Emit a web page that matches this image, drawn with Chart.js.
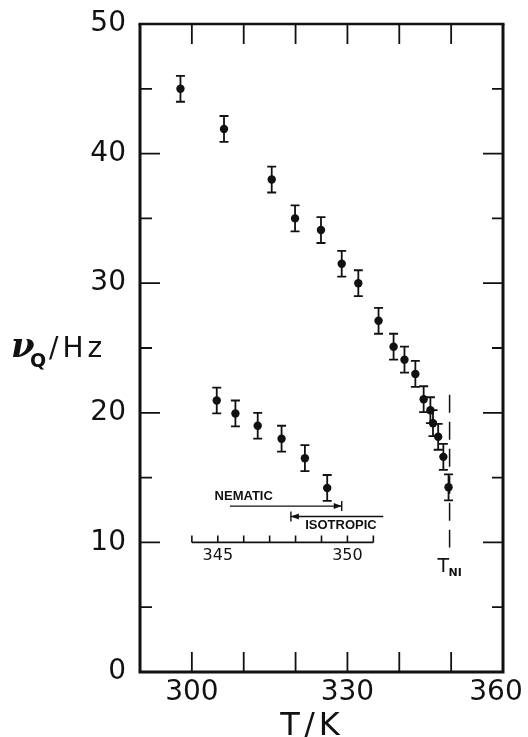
<!DOCTYPE html>
<html>
<head>
<meta charset="utf-8">
<script src="https://cdn.jsdelivr.net/npm/chart.js@4"></script>
<style>
  html, body { margin: 0; padding: 0; background: #fff; }
</style>
</head>
<body>
<canvas id="nuChart" width="528" height="737"></canvas>
<script>
'use strict';

// main curve: T / K against nu_Q / Hz
const tempK = [297.8, 306.2, 315.4, 319.9, 324.9, 328.9, 332.1, 336.0, 338.9, 341.0, 343.1, 344.7, 346.0, 346.5, 347.5, 348.5, 349.5];
const nuQ = [45.0, 41.9, 38.0, 35.0, 34.1, 31.5, 30.0, 27.1, 25.1, 24.1, 23.0, 21.05, 20.2, 19.2, 18.15, 16.6, 14.25];
const nuErr = [1, 1, 1, 1, 1, 1, 1, 1, 1, 1, 1, 1, 1, 1, 1, 1, 1];

// inset: same splitting on an expanded temperature scale near the transition
const insetT = [344.96, 345.68, 346.54, 347.46, 348.36, 349.22];
const insetNu = [20.95, 19.95, 19.0, 18.0, 16.5, 14.2];
const insetErr = [1, 1, 1, 1, 1, 1];
const insetTicks = [344, 345, 346, 347, 348, 349, 350, 351];
const insetTickLabels = [345, 350];
const nematicRange = [345.47, 349.78];
const isotropicRange = [347.82, 351.38];

const xTickLabels = [300, 330, 360];
const tNI = 349.7;
const tNIRange = [9.6, 21.4];

const black = '#111';

function drawErrorBars(ctx, xs, ys, data, err) {
    for (let i = 0; i < data.length; i++) {
        const px = xs.getPixelForValue(data[i].x);
        const top = ys.getPixelForValue(data[i].y + err[i]);
        const bot = ys.getPixelForValue(data[i].y - err[i]);
        ctx.beginPath();
        ctx.moveTo(px, top); ctx.lineTo(px, bot);
        ctx.moveTo(px - 4.5, top); ctx.lineTo(px + 4.5, top);
        ctx.moveTo(px - 4.5, bot); ctx.lineTo(px + 4.5, bot);
        ctx.stroke();
    }
}

const errorBarPlugin = {
    id: 'errorBars',
    beforeDatasetsDraw(chart) {
        const { ctx, scales } = chart;
        ctx.save();
        ctx.strokeStyle = black;
        ctx.lineWidth = 1.8;
        drawErrorBars(ctx, scales.x, scales.y, chart.data.datasets[0].data, nuErr);
        drawErrorBars(ctx, scales.x2, scales.y, chart.data.datasets[1].data, insetErr);
        ctx.restore();
    }
};

const framePlugin = {
    id: 'frame',
    afterDraw(chart) {
        const { ctx, chartArea: a, scales: { x, y, x2 } } = chart;
        ctx.save();
        ctx.strokeStyle = black;
        ctx.fillStyle = black;

        // frame
        ctx.lineWidth = 3;
        ctx.beginPath();
        ctx.moveTo(a.left, a.top); ctx.lineTo(a.left, a.bottom);
        ctx.lineTo(a.right, a.bottom); ctx.lineTo(a.right, a.top);
        ctx.stroke();
        ctx.lineWidth = 2.5;
        ctx.beginPath();
        ctx.moveTo(a.left - 1.5, a.top); ctx.lineTo(a.right + 1.5, a.top);
        ctx.stroke();

        // inward ticks
        ctx.lineWidth = 1.8;
        ctx.beginPath();
        for (let v = 5; v < 50; v += 5) {
            const py = y.getPixelForValue(v);
            const major = v % 10 === 0;
            ctx.moveTo(a.left, py); ctx.lineTo(a.left + (major ? 20 : 12), py);
            ctx.moveTo(a.right, py); ctx.lineTo(a.right - (major ? 20 : 11), py);
        }
        for (let t = 300; t < 360; t += 10) {
            const px = x.getPixelForValue(t);
            ctx.moveTo(px, a.bottom); ctx.lineTo(px, a.bottom - 20);
            ctx.moveTo(px, a.top); ctx.lineTo(px, a.top + 20);
        }
        ctx.stroke();

        // T_NI dashed marker
        ctx.lineWidth = 1.5;
        ctx.setLineDash([18, 9]);
        ctx.beginPath();
        const pxNI = x.getPixelForValue(tNI);
        ctx.moveTo(pxNI, y.getPixelForValue(tNIRange[1]));
        ctx.lineTo(pxNI, y.getPixelForValue(tNIRange[0]));
        ctx.stroke();
        ctx.setLineDash([]);
        ctx.font = '19px "DejaVu Sans"';
        ctx.textBaseline = 'alphabetic';
        ctx.textAlign = 'left';
        const nlY = y.getPixelForValue(7.7);
        ctx.fillText('T', pxNI - 12, nlY);
        ctx.font = 'bold 11px "DejaVu Sans"';
        ctx.fillText('NI', pxNI - 1, nlY + 4);

        // inset axis
        const iy = y.getPixelForValue(10);
        ctx.lineWidth = 1.6;
        ctx.beginPath();
        ctx.moveTo(x2.getPixelForValue(insetTicks[0]), iy);
        ctx.lineTo(x2.getPixelForValue(insetTicks[insetTicks.length - 1]), iy);
        insetTicks.forEach(t => {
            const px = x2.getPixelForValue(t);
            ctx.moveTo(px, iy); ctx.lineTo(px, iy - 7);
        });
        ctx.stroke();
        ctx.font = '16px "DejaVu Sans"';
        ctx.textAlign = 'center';
        ctx.textBaseline = 'middle';
        insetTickLabels.forEach(t => ctx.fillText(String(t), x2.getPixelForValue(t), y.getPixelForValue(9.0)));

        // nematic / isotropic arrows
        ctx.lineWidth = 1.4;
        const ny = y.getPixelForValue(12.8);
        const n0 = x2.getPixelForValue(nematicRange[0]);
        const n1 = x2.getPixelForValue(nematicRange[1]);
        ctx.beginPath();
        ctx.moveTo(n0, ny); ctx.lineTo(n1, ny);
        ctx.moveTo(n1, ny - 5); ctx.lineTo(n1, ny + 5);
        ctx.stroke();
        ctx.beginPath();
        ctx.moveTo(n1, ny); ctx.lineTo(n1 - 8, ny - 3); ctx.lineTo(n1 - 8, ny + 3);
        ctx.fill();

        const sy = y.getPixelForValue(12.0);
        const s0 = x2.getPixelForValue(isotropicRange[0]);
        const s1 = x2.getPixelForValue(isotropicRange[1]);
        ctx.beginPath();
        ctx.moveTo(s0, sy); ctx.lineTo(s1, sy);
        ctx.moveTo(s0, sy - 5); ctx.lineTo(s0, sy + 5);
        ctx.stroke();
        ctx.beginPath();
        ctx.moveTo(s0, sy); ctx.lineTo(s0 + 8, sy - 3); ctx.lineTo(s0 + 8, sy + 3);
        ctx.fill();

        ctx.font = 'bold 13px "Liberation Sans"';
        ctx.fillText('NEMATIC', x2.getPixelForValue(346.0), y.getPixelForValue(13.55));
        ctx.fillText('ISOTROPIC', x2.getPixelForValue(349.75), y.getPixelForValue(11.3));

        // axis titles
        ctx.textAlign = 'center';
        ctx.textBaseline = 'alphabetic';
        ctx.font = '32px "DejaVu Sans"';
        ctx.letterSpacing = '4px';
        ctx.fillText('T/K', 312, 735);

        ctx.textAlign = 'left';
        ctx.letterSpacing = '0px';
        const ty = y.getPixelForValue(24.3);
        ctx.font = 'italic bold 34px "DejaVu Serif"';
        ctx.fillText('ν', 11, ty);
        ctx.font = 'bold 19px "DejaVu Sans"';
        ctx.fillText('Q', 30, ty + 10);
        ctx.font = '28px "DejaVu Sans"';
        ctx.letterSpacing = '4px';
        ctx.fillText('/Hz', 49, ty);
        ctx.restore();
    }
};

new Chart(document.getElementById('nuChart'), {
    type: 'scatter',
    data: {
        datasets: [{
            label: 'main',
            data: tempK.map((t, i) => ({ x: t, y: nuQ[i] })),
            backgroundColor: black,
            borderWidth: 0,
            pointRadius: 4.2,
        }, {
            label: 'inset',
            xAxisID: 'x2',
            data: insetT.map((t, i) => ({ x: t, y: insetNu[i] })),
            backgroundColor: black,
            borderWidth: 0,
            pointRadius: 4.2,
        }]
    },
    options: {
        responsive: false,
        animation: false,
        layout: { autoPadding: false, padding: { top: 24, right: 25, left: 0, bottom: 0 } },
        scales: {
            x: {
                type: 'linear',
                min: 290,
                max: 360,
                grid: { display: false, drawTicks: false },
                border: { display: false },
                ticks: {
                    stepSize: 10,
                    padding: 4,
                    autoSkip: false,
                    maxRotation: 0,
                    minRotation: 0,
                    color: black,
                    font: { family: 'DejaVu Sans', size: 28 },
                    // last label sits a little left of its tick in the original
                    callback: v => xTickLabels.includes(v) ? (v === 360 ? '360\u2002' : String(v)) : ''
                },
                afterFit: s => { s.height = 65; s.paddingLeft = 0; s.paddingRight = 0; }
            },
            x2: {
                type: 'linear',
                min: 342,
                max: 356,
                display: false
            },
            y: {
                min: 0,
                max: 50,
                grid: { display: false, drawTicks: false },
                border: { display: false },
                ticks: {
                    stepSize: 10,
                    padding: 14,
                    color: black,
                    font: { family: 'DejaVu Sans', size: 28 }
                },
                afterFit: s => { s.width = 140; s.paddingTop = 0; s.paddingBottom = 0; }
            }
        },
        plugins: {
            legend: { display: false },
            tooltip: { enabled: false }
        }
    },
    plugins: [errorBarPlugin, framePlugin]
});
</script>
</body>
</html>
